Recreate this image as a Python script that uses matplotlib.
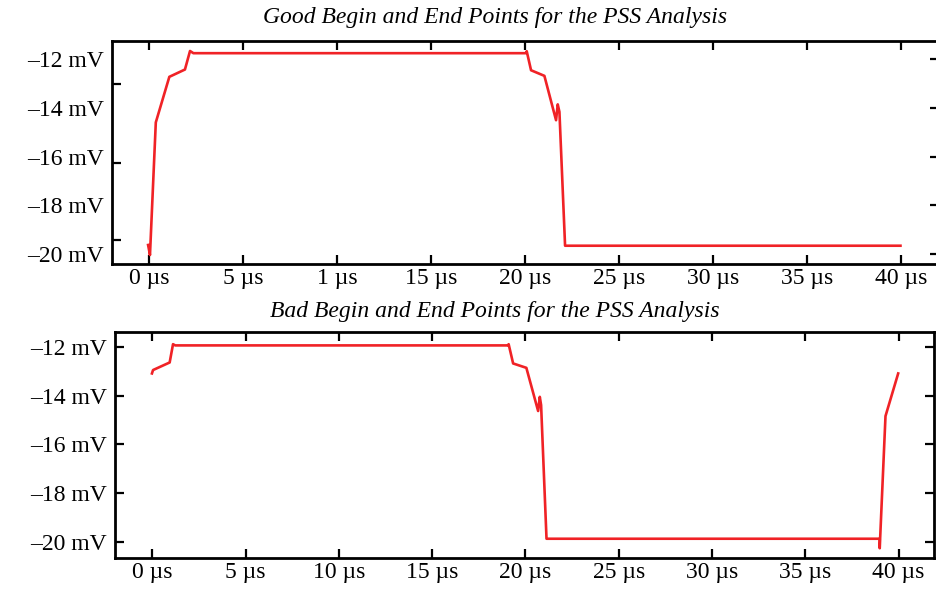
import matplotlib
matplotlib.use("Agg")
import matplotlib.pyplot as plt

plt.rcParams['font.family'] = ['Liberation Serif', 'DejaVu Serif']

# Waveforms (time in µs, voltage in mV)
good_t = [-0.05, 0.05, 0.36, 1.08, 1.91, 2.18, 2.36, 20.05, 20.09, 20.32, 21.03,
          21.65, 21.74, 21.83, 22.13, 39.97]
good_v = [-19.63, -20.04, -14.60, -12.73, -12.43, -11.67, -11.76, -11.76, -11.68,
          -12.46, -12.69, -14.51, -13.86, -14.17, -19.66, -19.66]

bad_t = [-0.02, 0.04, 0.93, 1.11, 1.23, 19.06, 19.10, 19.34, 20.05, 20.68, 20.77,
         20.84, 21.13, 38.99, 38.99, 39.30, 39.98]
bad_v = [-13.09, -12.95, -12.64, -11.89, -11.94, -11.94, -11.89, -12.68, -12.86,
         -14.63, -14.05, -14.39, -19.87, -19.87, -20.26, -14.84, -13.09]

# Axis ticks and labels
x_ticks = [0, 5, 10, 15, 20, 25, 30, 35, 40]
good_x_labels = ["0 µs", "5 µs", "1 µs", "15 µs", "20 µs", "25 µs", "30 µs", "35 µs", "40 µs"]
bad_x_labels = ["0 µs", "5 µs", "10 µs", "15 µs", "20 µs", "25 µs", "30 µs", "35 µs", "40 µs"]
y_ticks = [-12, -14, -16, -18, -20]
y_labels = ["\u201312 mV", "\u201314 mV", "\u201316 mV", "\u201318 mV", "\u201320 mV"]
good_left_marks = [-13.03, -16.27, -19.43]

good_title = "Good Begin and End Points for the PSS Analysis"
bad_title = "Bad Begin and End Points for the PSS Analysis"

W, H = 937, 591
fig = plt.figure(figsize=(W / 100, H / 100), dpi=100)

ax1 = fig.add_axes([112 / W, 1 - 264 / H, 827 / W, 223 / H])
ax2 = fig.add_axes([115 / W, 1 - 558 / H, 819 / W, 226 / H])

line_color = "#f02226"
fs = 17

for ax, t, v, xl, xlim, ylim in [
    (ax1, good_t, good_v, good_x_labels, (-1.97, 42.02), (-20.41, -11.26)),
    (ax2, bad_t, bad_v, bad_x_labels, (-2.0, 41.9), (-20.66, -11.39)),
]:
    ax.plot(t, v, color=line_color, lw=1.9, solid_joinstyle='round')
    ax.set_xlim(*xlim)
    ax.set_ylim(*ylim)
    ax.set_xticks(x_ticks)
    ax.set_xticklabels(xl)
    ax.set_yticks(y_ticks)
    ax.set_yticklabels(y_labels)
    for s in ax.spines.values():
        s.set_linewidth(2.0)
    ax.tick_params(axis='x', which='major', direction='in', top=True, bottom=True,
                   length=6.5, width=1.6, labelsize=fs, pad=3)
    ax.tick_params(axis='y', which='major', direction='in', left=True, right=True,
                   length=6.5, width=1.6, labelsize=fs, pad=6)

# Upper panel: left-side marks sit apart from the labelled levels
ax1.tick_params(axis='y', which='major', left=False)
ax1.set_yticks(good_left_marks, minor=True)
ax1.tick_params(axis='y', which='minor', direction='in', left=True, right=False,
                length=6.5, width=1.6)
ax1.tick_params(axis='x', which='minor', bottom=False, top=False)

fig.text(495 / W, 1 - 18 / H, good_title, ha='center', va='center',
         fontsize=17, style='italic')
fig.text(495 / W, 1 - 312 / H, bad_title, ha='center', va='center',
         fontsize=17, style='italic')

fig.savefig("out.png", dpi=100)
